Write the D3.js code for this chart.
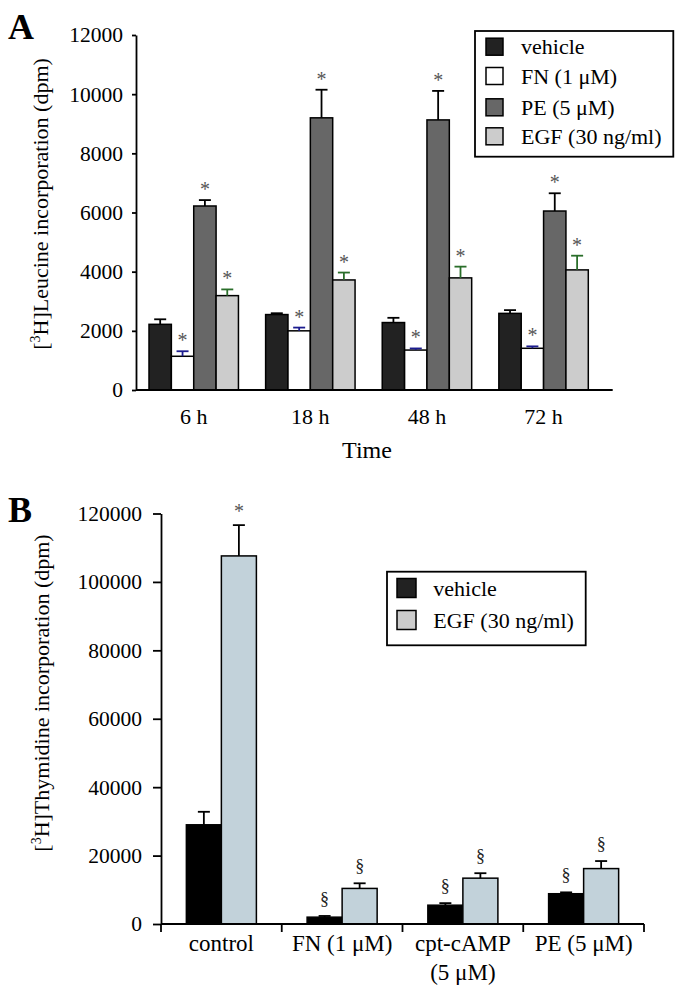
<!DOCTYPE html>
<html><head><meta charset="utf-8">
<script src="https://cdn.jsdelivr.net/npm/d3@7"></script>
<style>
html,body{margin:0;padding:0;background:#fff;}
svg{display:block;}
</style></head>
<body>
<svg id="chart" width="685" height="994"></svg>
<script>
// ---------- Panel A data ----------
const timeCats = ["6 h", "18 h", "48 h", "72 h"];
const seriesA = ["vehicle", "FN (1 μM)", "PE (5 μM)", "EGF (30 ng/ml)"];
const vehicleA = [2220, 2550, 2280, 2590];
const vehicleAErr = [170, 45, 160, 110];
const fnA = [1140, 2000, 1350, 1410];
const fnAErr = [170, 110, 55, 65];
const peA = [6220, 9200, 9130, 6050];
const peAErr = [200, 950, 980, 600];
const egfA = [3190, 3720, 3790, 4060];
const egfAErr = [210, 250, 380, 480];
const marksA = [["", "", "", ""], ["*", "*", "*", "*"], ["*", "*", "*", "*"], ["*", "*", "*", "*"]];
const ticksA = [0, 2000, 4000, 6000, 8000, 10000, 12000];

// ---------- Panel B data ----------
const treatCats = ["control", "FN (1 μM)", "cpt-cAMP\n(5 μM)", "PE (5 μM)"];
const seriesB = ["vehicle", "EGF (30 ng/ml)"];
const vehicleB = [29000, 2000, 5500, 8850];
const vehicleBErr = [3800, 350, 600, 400];
const egfB = [107600, 10400, 13400, 16200];
const egfBErr = [9000, 1500, 1450, 2200];
const marksB = [["", "§", "§", "§"], ["*", "§", "§", "§"]];
const ticksB = [0, 20000, 40000, 60000, 80000, 100000, 120000];

const SERIF = '"Liberation Serif", "Times New Roman", Times, serif';
const svg = d3.select("#chart").attr("font-family", SERIF);
const FONT = 22;

// ================= PANEL A =================
const colorsA = ["#222222", "#ffffff", "#676767", "#cccccc"];
const errColorsA = ["#000000", "#1c1c8f", "#000000", "#2a6e2a"];
const valsA = [vehicleA, fnA, peA, egfA];
const errsA = [vehicleAErr, fnAErr, peAErr, egfAErr];

const yA = d3.scaleLinear().domain([0, 12000]).range([390, 35]);
const xA = d3.scaleBand().domain(timeCats).range([149, 588.3]).paddingInner(0.233).paddingOuter(0);
const xsA = d3.scaleBand().domain(seriesA).range([0, xA.bandwidth()]);

const gA = svg.append("g");
const yAxA = gA.append("g").attr("transform", "translate(136,0)")
  .call(d3.axisLeft(yA).tickValues(ticksA).tickFormat(d3.format("d")).tickSize(4).tickSizeOuter(0).tickPadding(9));
yAxA.attr("font-family", SERIF);
yAxA.select(".domain").attr("stroke-width", 1.8);
yAxA.selectAll(".tick line").attr("stroke-width", 1.8);
yAxA.selectAll("text").attr("font-size", 21.5).attr("fill", "#000").attr("font-family", SERIF);

timeCats.forEach((c, i) => {
  seriesA.forEach((s, j) => {
    const v = valsA[j][i], e = errsA[j][i];
    const x0 = xA(c) + xsA(s), w = xsA.bandwidth(), cx = x0 + w / 2;
    gA.append("rect").attr("x", x0).attr("y", yA(v)).attr("width", w).attr("height", yA(0) - yA(v))
      .attr("fill", colorsA[j]).attr("stroke", "#000").attr("stroke-width", 1.5);
    gA.append("line").attr("x1", cx).attr("x2", cx).attr("y1", yA(v)).attr("y2", yA(v + e))
      .attr("stroke", errColorsA[j]).attr("stroke-width", 1.8);
    gA.append("line").attr("x1", cx - 6).attr("x2", cx + 6).attr("y1", yA(v + e)).attr("y2", yA(v + e))
      .attr("stroke", errColorsA[j]).attr("stroke-width", 1.8);
    if (marksA[j][i]) {
      gA.append("text").attr("x", cx).attr("y", yA(v + e) - 14 + 10).attr("text-anchor", "middle")
        .attr("font-family", SERIF).attr("font-size", 20).attr("fill", "#555").text(marksA[j][i]);
    }
  });
});
gA.append("line").attr("x1", 136).attr("x2", 612.7).attr("y1", yA(0)).attr("y2", yA(0))
  .attr("stroke", "#000").attr("stroke-width", 1.8);
const xAxA = gA.append("g").attr("transform", `translate(0,${yA(0)})`)
  .call(d3.axisBottom(xA).tickSize(0));
xAxA.attr("font-family", SERIF);
xAxA.select(".domain").remove();
xAxA.selectAll("text").attr("y", 34).attr("dy", 0).attr("font-size", 22).attr("fill", "#000").attr("font-family", SERIF);

gA.append("text").attr("x", 367).attr("y", 458).attr("text-anchor", "middle").attr("font-family", SERIF).attr("font-size", 24).text("Time");
const ytA = gA.append("text").attr("transform", "translate(48,204) rotate(-90)").attr("text-anchor", "middle")
  .attr("font-family", SERIF).attr("font-size", FONT);
ytA.append("tspan").text("[");
ytA.append("tspan").attr("font-size", 14).attr("dy", -8).text("3");
ytA.append("tspan").attr("dy", 8).text("H]Leucine incorporation (dpm)");
gA.append("text").attr("x", 8).attr("y", 39).attr("font-family", SERIF).attr("font-size", 36).attr("font-weight", "bold").text("A");

gA.append("rect").attr("x", 475).attr("y", 31).attr("width", 198.3).attr("height", 125.7)
  .attr("fill", "#fff").attr("stroke", "#000").attr("stroke-width", 1.8);
const legYA = [46.7, 76, 107.3, 136.3];
seriesA.forEach((s, j) => {
  gA.append("rect").attr("x", 486).attr("y", legYA[j] - 8.5).attr("width", 17).attr("height", 17)
    .attr("fill", colorsA[j]).attr("stroke", "#000").attr("stroke-width", 1.5);
  gA.append("text").attr("x", 521).attr("y", legYA[j] + 7.5).attr("font-family", SERIF).attr("font-size", 22).text(s);
});

// ================= PANEL B =================
const colorsB = ["#000000", "#c2d2da"];
const legColorsB = ["#222222", "#cccccc"];
const valsB = [vehicleB, egfB];
const errsB = [vehicleBErr, egfBErr];

const yB = d3.scaleLinear().domain([0, 120000]).range([924, 513.5]);
const xB = d3.scaleBand().domain(treatCats).range([161, 644]).paddingInner(0.42).paddingOuter(0.21);
const xsB = d3.scaleBand().domain(seriesB).range([0, xB.bandwidth()]);

const gB = svg.append("g");
const yAxB = gB.append("g").attr("transform", "translate(161,0)")
  .call(d3.axisLeft(yB).tickValues(ticksB).tickFormat(d3.format("d")).tickSize(8).tickSizeOuter(0).tickPadding(11));
yAxB.attr("font-family", SERIF);
yAxB.select(".domain").attr("stroke-width", 1.8);
yAxB.selectAll(".tick line").attr("stroke-width", 1.8);
yAxB.selectAll("text").attr("font-size", 21.5).attr("fill", "#000").attr("font-family", SERIF);

treatCats.forEach((c, i) => {
  seriesB.forEach((s, j) => {
    const v = valsB[j][i], e = errsB[j][i];
    const x0 = xB(c) + xsB(s), w = xsB.bandwidth(), cx = x0 + w / 2;
    gB.append("rect").attr("x", x0).attr("y", yB(v)).attr("width", w).attr("height", yB(0) - yB(v))
      .attr("fill", colorsB[j]).attr("stroke", "#000").attr("stroke-width", 1.5);
    gB.append("line").attr("x1", cx).attr("x2", cx).attr("y1", yB(v)).attr("y2", yB(v + e))
      .attr("stroke", "#000").attr("stroke-width", 1.8);
    gB.append("line").attr("x1", cx - 6).attr("x2", cx + 6).attr("y1", yB(v + e)).attr("y2", yB(v + e))
      .attr("stroke", "#000").attr("stroke-width", 1.8);
    const m = marksB[j][i];
    if (m === "*") {
      gB.append("text").attr("x", cx).attr("y", yB(v + e) - 17 + 10).attr("text-anchor", "middle")
        .attr("font-family", SERIF).attr("font-size", 20).attr("fill", "#555").text(m);
    } else if (m) {
      gB.append("text").attr("x", cx).attr("y", yB(v + e) - 16 + 5).attr("text-anchor", "middle")
        .attr("font-family", SERIF).attr("font-size", 18).attr("fill", "#222").text(m);
    }
  });
});
gB.append("line").attr("x1", 161).attr("x2", 644).attr("y1", yB(0)).attr("y2", yB(0))
  .attr("stroke", "#000").attr("stroke-width", 1.8);
d3.range(treatCats.length + 1).forEach(i => {
  const bx = xB.range()[0] + i * xB.step();
  gB.append("line").attr("x1", bx).attr("x2", bx).attr("y1", yB(0)).attr("y2", yB(0) + 8)
    .attr("stroke", "#000").attr("stroke-width", 1.8);
});
const xAxB = gB.append("g").attr("transform", `translate(0,${yB(0)})`)
  .call(d3.axisBottom(xB).tickSize(0));
xAxB.attr("font-family", SERIF);
xAxB.select(".domain").remove();
xAxB.selectAll("text").each(function(d) {
  const t = d3.select(this);
  const lines = d.split("\n");
  t.text(null).attr("y", 27).attr("dy", 0).attr("font-size", 23).attr("fill", "#000").attr("font-family", SERIF);
  lines.forEach((ln, k) => {
    t.append("tspan").attr("x", 0).attr("y", 27 + k * 29).text(ln);
  });
});

const ytB = gB.append("text").attr("transform", "translate(49,693) rotate(-90)").attr("text-anchor", "middle")
  .attr("font-family", SERIF).attr("font-size", FONT);
ytB.append("tspan").text("[");
ytB.append("tspan").attr("font-size", 14).attr("dy", -8).text("3");
ytB.append("tspan").attr("dy", 8).text("H]Thymidine incorporation (dpm)");
gB.append("text").attr("x", 8).attr("y", 522).attr("font-family", SERIF).attr("font-size", 36).attr("font-weight", "bold").text("B");

gB.append("rect").attr("x", 387).attr("y", 571.7).attr("width", 198.7).attr("height", 73.6)
  .attr("fill", "#fff").attr("stroke", "#000").attr("stroke-width", 1.8);
const legYB = [588, 620];
seriesB.forEach((s, j) => {
  gB.append("rect").attr("x", 397).attr("y", legYB[j] - 9.5).attr("width", 19).attr("height", 19)
    .attr("fill", legColorsB[j]).attr("stroke", "#000").attr("stroke-width", 1.5);
  gB.append("text").attr("x", 433.3).attr("y", legYB[j] + 7.5).attr("font-family", SERIF).attr("font-size", 22).text(s);
});
</script>
</body></html>
